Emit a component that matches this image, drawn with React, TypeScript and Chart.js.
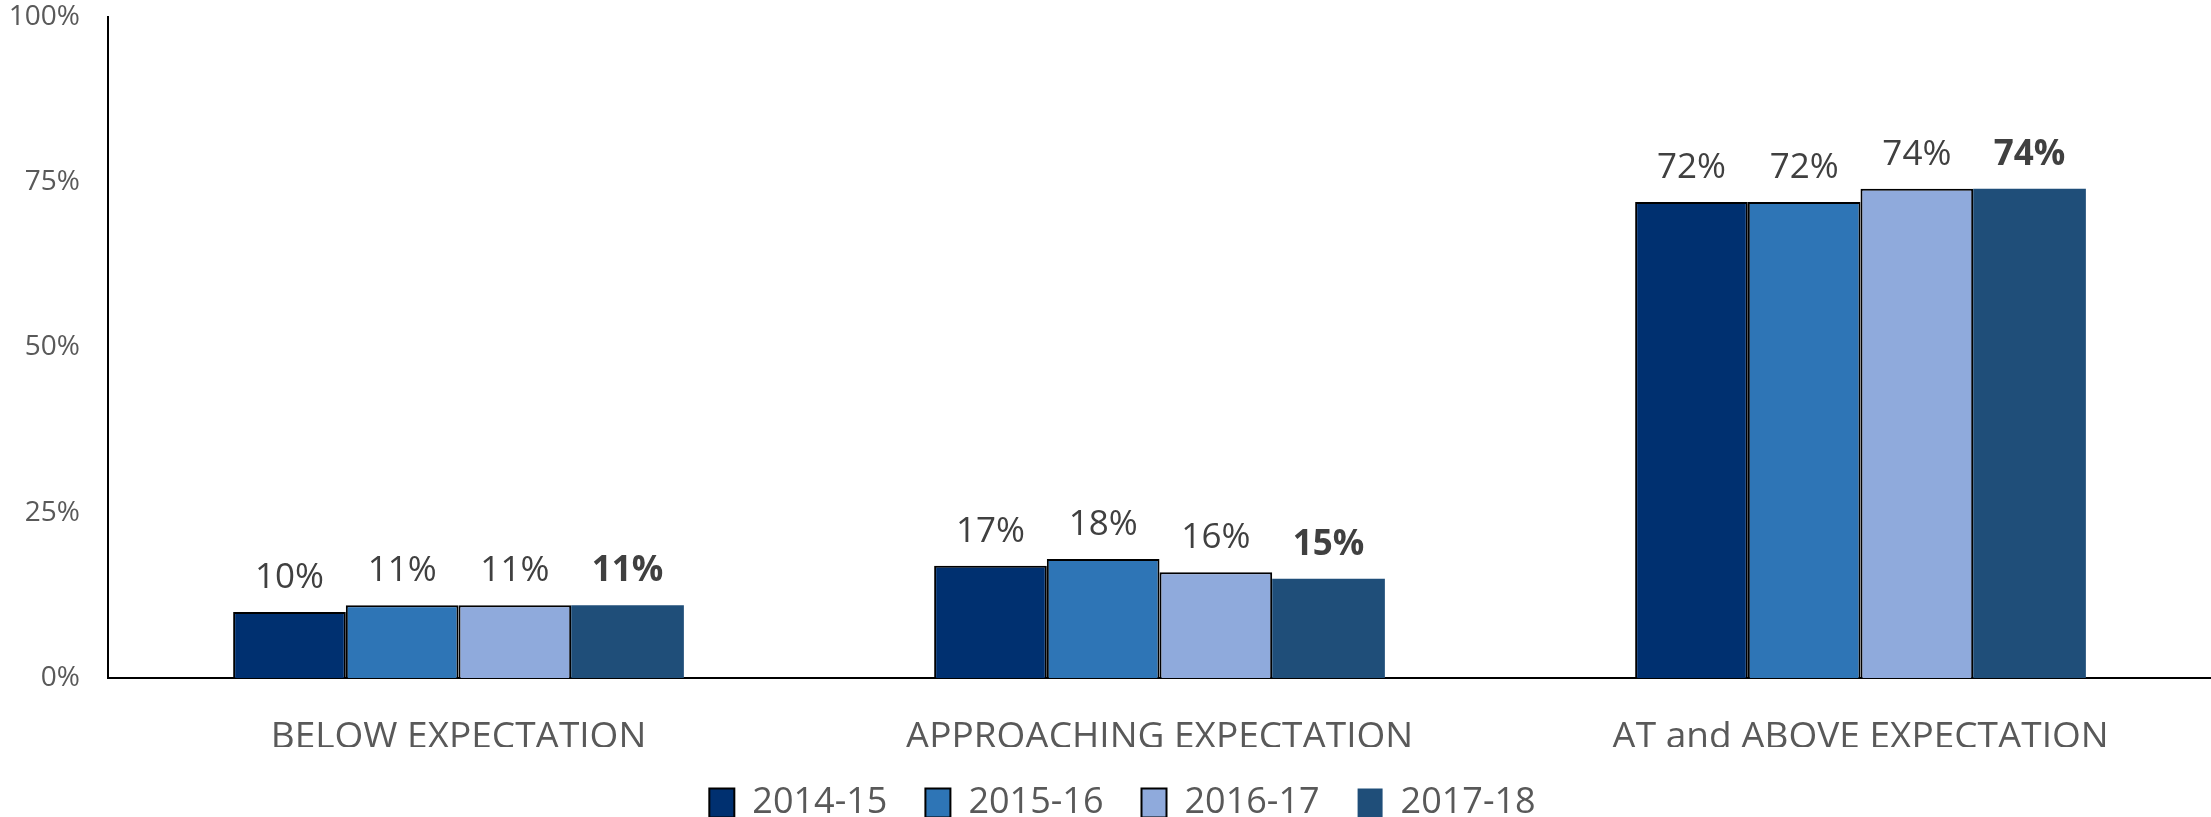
import React, { useEffect, useRef } from "react";
import { Chart, registerables } from "chart.js";

Chart.register(...registerables);

const categories = ["BELOW EXPECTATION", "APPROACHING EXPECTATION", "AT and ABOVE EXPECTATION"];
const seriesNames = ["2014-15", "2015-16", "2016-17", "2017-18"];
const values2014 = [10, 17, 72];
const values2015 = [11, 18, 72];
const values2016 = [11, 16, 74];
const values2017 = [11, 15, 74];
const yTicks = [0, 25, 50, 75, 100];

const colors = ["#003070", "#2E75B6", "#8FAADC", "#1F4E79"];
const FONT = "'Open Sans', 'DejaVu Sans', sans-serif";

const dataLabelPlugin = {
  id: "dataLabels",
  afterDatasetsDraw(chart: any) {
    const ctx = chart.ctx;
    ctx.save();
    ctx.textAlign = "center";
    ctx.textBaseline = "alphabetic";
    ctx.fillStyle = "#404040";
    chart.data.datasets.forEach((ds: any, i: number) => {
      const meta = chart.getDatasetMeta(i);
      const bold = i === 3;
      ctx.font = `${bold ? "bold " : ""}35px ${FONT}`;
      meta.data.forEach((el: any, j: number) => {
        ctx.fillText(`${ds.data[j]}%`, el.x, el.y - 24);
      });
    });
    ctx.restore();
  },
};

const legendShiftPlugin = {
  id: "legendShift",
  afterLayout(chart: any) {
    if (chart.legend) {
      chart.legend.left += 12;
      chart.legend.right += 12;
    }
  },
};

export default function App() {
  const ref = useRef<HTMLCanvasElement>(null);
  useEffect(() => {
    if (!ref.current) return;
    const all = [values2014, values2015, values2016, values2017];
    const chart = new Chart(ref.current, {
      type: "bar",
      data: {
        labels: categories,
        datasets: seriesNames.map((name, i) => ({
          label: name,
          data: all[i],
          backgroundColor: colors[i],
          borderColor: "#000000",
          borderWidth: i === 3 ? 0 : 2,
          borderSkipped: "bottom",
          barPercentage: 1,
          categoryPercentage: 0.643,
        })),
      },
      options: {
        animation: false,
        responsive: true,
        maintainAspectRatio: false,
        layout: { padding: { left: 10, right: 0, top: 0, bottom: 0 } },
        plugins: {
          tooltip: { enabled: false },
          legend: {
            position: "bottom",
            maxHeight: 70,
            labels: {
              boxWidth: 25,
              boxHeight: 29,
              padding: 38,
              color: "#595959",
              font: { family: FONT, size: 36 },
            },
          },
        },
        scales: {
          x: {
            grid: { display: false, drawTicks: false },
            border: { display: true, color: "#000000", width: 2 },
            ticks: {
              color: "#595959",
              font: { family: FONT, size: 37 },
              padding: 37,
              maxRotation: 0,
            },
            afterFit: (scale: any) => {
              scale.height = 69;
              scale.paddingLeft = 0;
              scale.paddingRight = 0;
            },
          },
          y: {
            min: 0,
            max: 100,
            grid: { display: false, drawTicks: false },
            border: { display: true, color: "#000000", width: 2 },
            afterBuildTicks: (scale: any) => {
              scale.ticks = yTicks.map((v) => ({ value: v }));
            },
            afterFit: (scale: any) => {
              scale.width = 98;
              scale.paddingTop = 17;
              scale.paddingBottom = 0;
            },
            ticks: {
              color: "#595959",
              font: { family: FONT, size: 28 },
              padding: 28,
              callback: (v: any) => `${v}%`,
            },
          },
        },
      },
      plugins: [dataLabelPlugin, legendShiftPlugin],
    });
    return () => chart.destroy();
  }, []);
  return (
    <div style={{ position: "fixed", left: 0, top: 0, width: 2211, height: 817, background: "#fff" }}>
      <canvas ref={ref} />
    </div>
  );
}
